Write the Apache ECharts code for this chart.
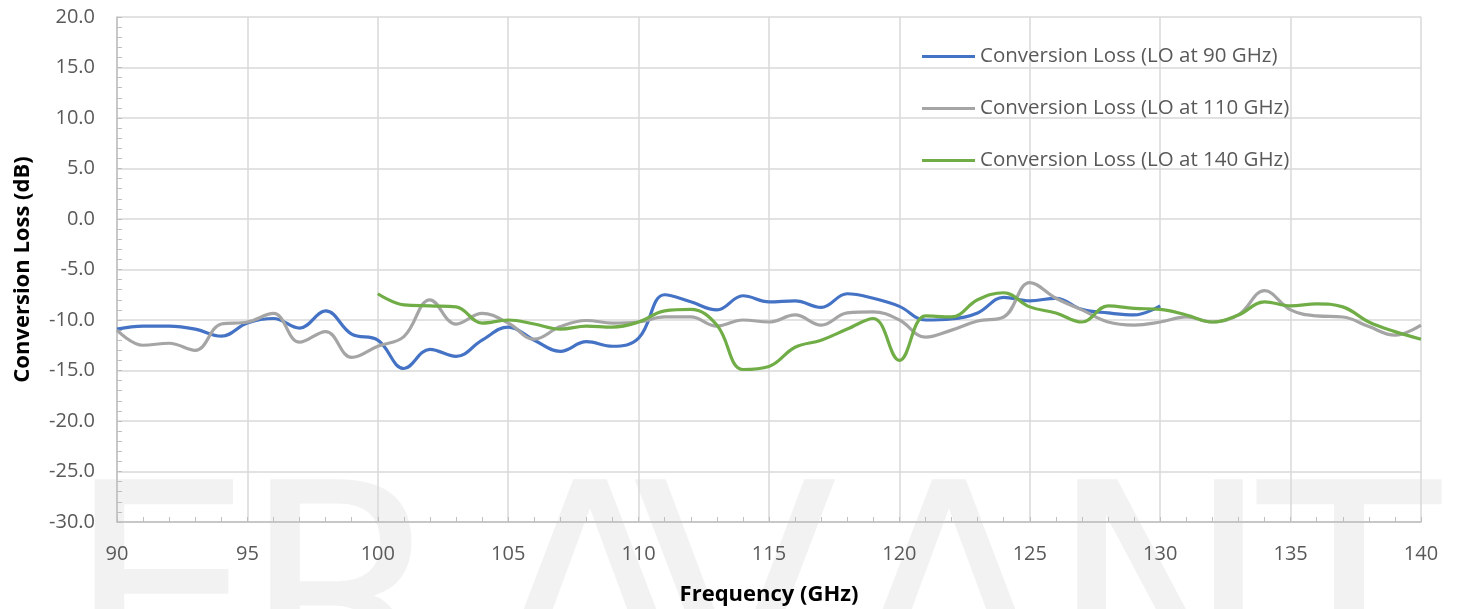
<!DOCTYPE html>
<html>
<head>
<meta charset="utf-8">
<script src="https://cdn.jsdelivr.net/npm/echarts@6/dist/echarts.min.js"></script>
<style>
  html, body { margin: 0; padding: 0; background: #fff; }
  #chart { width: 1457px; height: 609px; }
</style>
</head>
<body>
<div id="chart"></div>
<script>
// frequencies (GHz), one point per GHz
var freqLo90 = [90,91,92,93,94,95,96,97,98,99,100,101,102,103,104,105,106,107,108,109,110,
  111,112,113,114,115,116,117,118,119,120,121,122,123,124,125,126,127,128,129,130];
var lossLo90 = [-10.9,-10.6,-10.6,-10.9,-11.6,-10.3,-9.85,-10.8,-9.1,-11.4,-12.0,-14.8,-12.9,-13.6,-12.0,-10.7,-12.0,-13.1,-12.15,-12.6,-11.8,
  -7.5,-8.2,-9.0,-7.6,-8.2,-8.1,-8.75,-7.4,-7.85,-8.65,-10.0,-9.9,-9.3,-7.75,-8.1,-7.85,-8.95,-9.3,-9.5,-8.6];

var freqLo110 = [90,91,92,93,94,95,96,97,98,99,100,101,102,103,104,105,106,107,108,109,110,
  111,112,113,114,115,116,117,118,119,120,121,122,123,124,125,126,127,128,129,130,
  131,132,133,134,135,136,137,138,139,140];
var lossLo110 = [-11.0,-12.5,-12.3,-13.0,-10.4,-10.2,-9.35,-12.2,-11.15,-13.7,-12.6,-11.65,-8.0,-10.4,-9.35,-10.3,-11.9,-10.65,-10.05,-10.3,-10.2,
  -9.7,-9.7,-10.6,-10.0,-10.2,-9.5,-10.5,-9.3,-9.2,-10.0,-11.7,-11.0,-10.1,-9.7,-6.3,-7.85,-9.0,-10.2,-10.5,-10.2,
  -9.7,-10.2,-9.5,-7.1,-9.0,-9.6,-9.7,-10.65,-11.5,-10.5];

var freqLo140 = [100,101,102,103,104,105,106,107,108,109,110,
  111,112,113,114,115,116,117,118,119,120,121,122,123,124,125,126,127,128,129,130,
  131,132,133,134,135,136,137,138,139,140];
var lossLo140 = [-7.4,-8.5,-8.6,-8.7,-10.3,-10.0,-10.4,-10.9,-10.6,-10.7,-10.2,
  -9.1,-8.95,-10.5,-14.9,-14.6,-12.7,-12.0,-10.9,-9.85,-14.0,-9.6,-9.7,-8.0,-7.3,-8.7,-9.3,-10.2,-8.6,-8.85,-8.95,
  -9.5,-10.2,-9.5,-8.2,-8.6,-8.4,-8.7,-10.2,-11.15,-11.9];

var seriesNames = ['Conversion Loss (LO at 90 GHz)', 'Conversion Loss (LO at 110 GHz)', 'Conversion Loss (LO at 140 GHz)'];
var colors = ['#4472c4', '#a5a5a5', '#70ad47'];

// faint logo letters behind the plot
var watermark = ['E', 'R', 'A', 'V', 'A', 'N', 'T'];
var watermarkX = [160, 345, 590, 735, 949, 1160, 1349];

function pairs(xs, ys) {
  return xs.map(function (x, i) { return [x, ys[i]]; });
}

var font = '"Open Sans", Lato, sans-serif';
var chart = echarts.init(document.getElementById('chart'));

var graphics = watermark.map(function (ch, i) {
  return {
    type: 'text',
    z: -10,
    silent: true,
    style: {
      text: ch,
      x: watermarkX[i],
      y: 470,
      align: 'center',
      fontSize: 300,
      fontFamily: '"DejaVu Sans", sans-serif',
      fill: '#f2f2f2'
    }
  };
});

chart.setOption({
  animation: false,
  color: colors,
  graphic: graphics,
  grid: { left: 117, right: 36, top: 17, bottom: 87, outerBoundsMode: 'none', containLabel: false },
  legend: {
    orient: 'vertical',
    left: 917,
    top: 41,
    itemWidth: 53,
    itemHeight: 3,
    itemGap: 31,
    icon: 'rect',
    textStyle: { color: '#595959', fontSize: 20.5, fontFamily: font, lineHeight: 21 },
    data: seriesNames
  },
  xAxis: {
    type: 'value',
    min: 90,
    max: 140,
    interval: 5,
    name: 'Frequency (GHz)',
    nameLocation: 'middle',
    nameGap: 62,
    nameTextStyle: { color: '#000', fontSize: 22, fontWeight: 'bold', fontFamily: font },
    axisLine: { show: true, onZero: false, lineStyle: { color: '#bfbfbf', width: 1.5 } },
    axisTick: { show: true, inside: true, length: 5, lineStyle: { color: '#bfbfbf' } },
    minorTick: { show: true, splitNumber: 5, length: 5, lineStyle: { color: '#bfbfbf' } },
    axisLabel: { color: '#595959', fontSize: 20, fontFamily: font, margin: 22 },
    splitLine: { show: true, lineStyle: { color: '#d9d9d9', width: 1.5 } }
  },
  yAxis: {
    type: 'value',
    min: -30,
    max: 20,
    interval: 5,
    name: 'Conversion Loss (dB)',
    nameLocation: 'middle',
    nameGap: 83,
    nameTextStyle: { color: '#000', fontSize: 22, fontWeight: 'bold', fontFamily: font },
    axisLine: { show: true, onZero: false, lineStyle: { color: '#bfbfbf', width: 1.5 } },
    axisTick: { show: true, inside: true, length: 5, lineStyle: { color: '#bfbfbf' } },
    minorTick: { show: true, splitNumber: 5, length: 5, lineStyle: { color: '#bfbfbf' } },
    axisLabel: {
      color: '#595959', fontSize: 20, fontFamily: font, margin: 22,
      formatter: function (v) { return v.toFixed(1); }
    },
    splitLine: { show: true, lineStyle: { color: '#d9d9d9', width: 1.5 } }
  },
  series: [
    { name: seriesNames[0], type: 'line', data: pairs(freqLo90, lossLo90) },
    { name: seriesNames[1], type: 'line', data: pairs(freqLo110, lossLo110) },
    { name: seriesNames[2], type: 'line', data: pairs(freqLo140, lossLo140) }
  ].map(function (s) {
    s.smooth = 0.4;
    s.showSymbol = false;
    s.lineStyle = { width: 3.2 };
    s.z = 3;
    return s;
  })
});
</script>
</body>
</html>
